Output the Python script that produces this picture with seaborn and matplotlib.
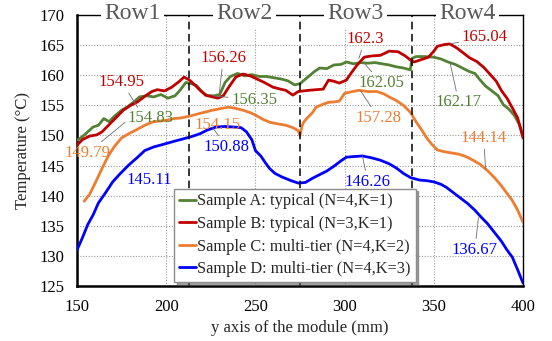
import numpy as np
import pandas as pd
import seaborn as sns
import matplotlib
matplotlib.use("Agg")
import matplotlib.pyplot as plt

# ---------------- data ----------------
labels = ["Sample A: typical (N=4,K=1)", "Sample B: typical (N=3,K=1)",
          "Sample C: multi-tier (N=4,K=2)", "Sample D: multi-tier (N=4,K=3)"]
colors = ["#548235", "#C00000", "#ED7D31", "#0000FF"]

xA = [150, 153, 156, 159, 162, 165, 168, 171, 175, 178, 182, 185, 189, 193, 197, 201, 205, 208, 211,
      214, 217, 220, 223, 227, 230, 233, 236, 240, 244, 248, 252, 256, 260, 264, 268, 272, 275, 279,
      283, 286, 290, 294, 298, 301, 305, 309, 313, 317, 321, 325, 329, 333, 336.8, 337.8, 340, 345,
      350, 354, 358, 362, 366, 370, 373, 376, 379, 383, 386, 389, 392, 395, 398, 400]
yA = [149.2, 149.8, 150.6, 151.4, 151.7, 152.8, 152.3, 153.2, 154.2, 154.7, 155.6, 156.4, 156.6, 156.4,
      156.8, 156.2, 156.6, 157.6, 158.8, 158.6, 158.3, 157.3, 156.6, 156.6, 156.8, 158.8, 159.8, 160.3,
      159.9, 160.1, 159.8, 159.8, 159.6, 159.4, 159.1, 158.4, 158.6, 159.6, 160.6, 161.2, 161.1, 161.7,
      161.8, 162.2, 161.9, 162.1, 162.0, 162.1, 161.9, 161.7, 161.4, 161.2, 160.9, 162.8, 163.1, 163.1,
      163.0, 162.7, 162.2, 161.8, 161.2, 160.6, 160.3, 159.2, 158.2, 157.3, 156.6, 155.1, 154.4, 153.4,
      151.8, 150.0]

xB = [150, 153, 157, 161, 164, 168, 172, 176, 180, 184, 188, 192, 195, 199, 203, 207, 210, 213, 216,
      219, 222, 226, 229, 232, 235, 239, 243, 247, 250, 255, 260, 264, 267, 271, 274, 277, 280, 284,
      288, 291, 294, 297, 301, 304, 307, 311, 315, 320, 325, 330, 334, 337, 339, 343, 347, 350, 352,
      356, 359, 363, 367, 370, 374, 378, 382, 385, 388, 391, 394, 397, 400]
yB = [148.4, 149.3, 149.9, 150.1, 150.6, 151.8, 153.0, 154.2, 155.0, 155.6, 156.5, 157.3, 157.6, 157.4,
      158.0, 158.9, 159.7, 159.2, 158.4, 157.5, 156.7, 156.4, 156.2, 156.6, 158.0, 159.7, 160.2, 159.9,
      159.5, 158.8, 158.0, 157.7, 157.5, 156.7, 157.3, 157.4, 157.5, 157.6, 157.7, 159.2, 159.0, 158.7,
      159.2, 160.5, 161.7, 163.0, 163.2, 163.3, 164.0, 163.9, 163.2, 162.5, 162.2, 162.6, 163.0, 164.0,
      164.8, 165.1, 165.2, 164.5, 163.6, 162.9, 162.3, 161.3, 160.0, 159.0, 157.4, 156.2, 154.6, 152.9,
      149.6]

xC = [154, 157, 160, 164, 167.5, 171, 175, 179, 183, 188, 192, 196, 200, 204, 208, 213, 218, 222, 226,
      231, 235, 239, 243, 247, 250, 254, 258, 263, 267, 271, 274, 275, 276, 277, 279, 282, 284, 288,
      291, 295, 297, 300, 303, 308, 313, 318, 322, 325, 329, 333, 337, 340, 343, 346, 349, 352, 356,
      360, 364, 368, 372, 376, 380, 384, 388, 391, 394, 397, 400]
yC = [139.1, 140.2, 142.0, 144.5, 146.6, 148.2, 149.6, 150.3, 150.9, 151.7, 152.2, 152.4, 152.5, 152.8,
      152.9, 153.2, 153.6, 153.9, 154.2, 154.5, 154.7, 154.5, 154.2, 153.8, 153.4, 152.7, 152.2, 151.9,
      151.7, 151.3, 150.8, 150.0, 151.5, 152.2, 152.9, 153.8, 154.7, 155.2, 155.5, 155.6, 155.7, 157.0,
      157.2, 157.5, 157.3, 157.3, 156.9, 156.4, 155.8, 155.0, 153.8, 152.3, 151.0, 149.6, 148.5, 147.6,
      147.3, 147.1, 146.9, 146.5, 145.9, 145.2, 144.2, 143.0, 141.6, 140.4, 139.2, 137.6, 135.6]

xD = [150, 153, 156, 159, 162, 166, 170, 174, 179, 184, 188, 193, 198, 204, 209, 214, 219, 223, 228,
      233, 238, 242, 245, 248, 250, 253, 256, 258, 261, 265, 270, 274, 278, 282, 286, 290, 294, 298,
      301, 305, 310, 315, 320, 325, 329, 333, 337, 342, 346, 350, 354, 357, 361, 365, 369, 373, 377,
      380, 384, 388, 391, 394, 397, 400]
yD = [131.0, 133.0, 135.2, 136.8, 138.8, 140.5, 142.3, 143.6, 145.1, 146.4, 147.5, 148.1, 148.5, 149.0,
      149.4, 149.8, 150.3, 150.9, 151.4, 151.5, 151.4, 151.3, 150.6, 149.3, 147.5, 146.6, 145.3, 144.5,
      143.7, 143.1, 142.5, 142.1, 142.2, 142.9, 143.5, 144.1, 144.9, 145.8, 146.4, 146.5, 146.6, 146.3,
      145.9, 145.3, 144.6, 143.7, 143.0, 142.6, 142.5, 142.3, 141.9, 141.4, 140.5, 139.6, 138.7, 137.6,
      136.3, 135.4, 133.9, 132.4, 131.0, 129.8, 127.7, 125.5]

row_labels = ["Row1", "Row2", "Row3", "Row4"]
row_bounds = [150, 212.5, 275, 337.5, 400]

# annotations: (text, colour index, text position, point on curve or None)
ann_text = ["154.95", "154.83", "149.79", "145.11", "156.26", "156.35", "154.15", "150.88",
            "162.3", "162.05", "157.28", "146.26", "165.04", "162.17", "144.14", "136.67"]
ann_color = [1, 0, 2, 3, 1, 0, 2, 3, 1, 0, 2, 3, 1, 0, 2, 3]
ann_textpos = [(175, 158.9), (191, 152.9), (156, 147.1), (190.5, 142.6),
               (232, 162.9), (249.5, 155.9), (229, 151.8), (234, 148.1),
               (311.6, 166.0), (320.6, 158.7), (319, 152.9), (313, 142.3),
               (378.6, 166.3), (364, 155.5), (378, 149.6), (373, 131.0)]
ann_xy = [(184, 154.7), None, (177, 152.2), None,
          (229.5, 156.4), (226, 156.6), None, (226, 151.3),
          (308, 162.8), (311, 162.0), (309, 157.4), (310, 146.6),
          (359, 165.2), (359, 162.2), (379, 144.4), (375, 136.4)]

# ---------------- frame ----------------
frames = []
for lab, xs, ys in zip(labels, [xA, xB, xC, xD], [yA, yB, yC, yD]):
    frames.append(pd.DataFrame({"pos": xs, "T": ys, "sample": lab}))
df = pd.concat(frames, ignore_index=True)

sns.set_style("white")
plt.rcParams["font.family"] = ["Liberation Serif", "DejaVu Serif"]
plt.rcParams["mathtext.fontset"] = "stix"

fig = plt.figure(figsize=(5.52, 3.41), dpi=100)
ax = fig.add_axes([0.1395, 0.161, 0.808, 0.795])

sns.lineplot(data=df, x="pos", y="T", hue="sample", hue_order=labels,
             palette=dict(zip(labels, colors)), estimator=None, linewidth=2.0,
             ax=ax, zorder=3)

ax.set_xlim(150, 400)
ax.set_ylim(125, 170)
ax.set_xticks(np.arange(150, 401, 50))
ax.set_yticks(np.arange(125, 171, 5))
ax.grid(True, color="#9a9a9a", linestyle=(0, (1, 1.5)), linewidth=0.8)
ax.tick_params(axis="both", labelsize=12, length=0, pad=9, colors="black")
ax.set_xlabel("y axis of the module (mm)", fontsize=12, labelpad=4)
ax.set_ylabel("Temperature (°C)", fontsize=12, labelpad=6)

for side in ["left", "bottom"]:
    ax.spines[side].set_linewidth(1.8)
    ax.spines[side].set_color("black")
for side in ["top", "right"]:
    ax.spines[side].set_linewidth(1.0)
    ax.spines[side].set_color("black")

for b in row_bounds[1:-1]:
    ax.axvline(b, color="black", linestyle=(0, (5, 3)), linewidth=1.1, zorder=4)

for i, lab in enumerate(row_labels):
    c = 0.5 * (row_bounds[i] + row_bounds[i + 1])
    ax.text(c, 1.005, lab, transform=ax.get_xaxis_transform(), ha="center", va="center",
            fontsize=17, color="#595959", clip_on=False, zorder=5,
            bbox=dict(facecolor="white", edgecolor="none", pad=2.5))

for t, ci, tp, xy in zip(ann_text, ann_color, ann_textpos, ann_xy):
    if xy is None:
        ax.text(tp[0], tp[1], t, color=colors[ci], fontsize=12, ha="center", va="center", zorder=6)
    else:
        ax.annotate(t, xy=xy, xytext=tp, color=colors[ci], fontsize=12, ha="center", va="center",
                    zorder=6, arrowprops=dict(arrowstyle="-", color="#6e6e6e", lw=0.6,
                                              shrinkA=0, shrinkB=0))

handles, labs = ax.get_legend_handles_labels()
leg = ax.legend(handles, labs, loc="lower left", bbox_to_anchor=(0.218, 0.015),
                borderaxespad=0, fontsize=11.8, handlelength=1.0, handletextpad=0.1,
                labelspacing=0.4, borderpad=0.3, frameon=True, fancybox=False,
                shadow=True, edgecolor="#8c8c8c", framealpha=1)
leg.set_zorder(7)
for h in leg.get_lines():
    h.set_linewidth(2.0)

fig.savefig("out.png", dpi=100)
